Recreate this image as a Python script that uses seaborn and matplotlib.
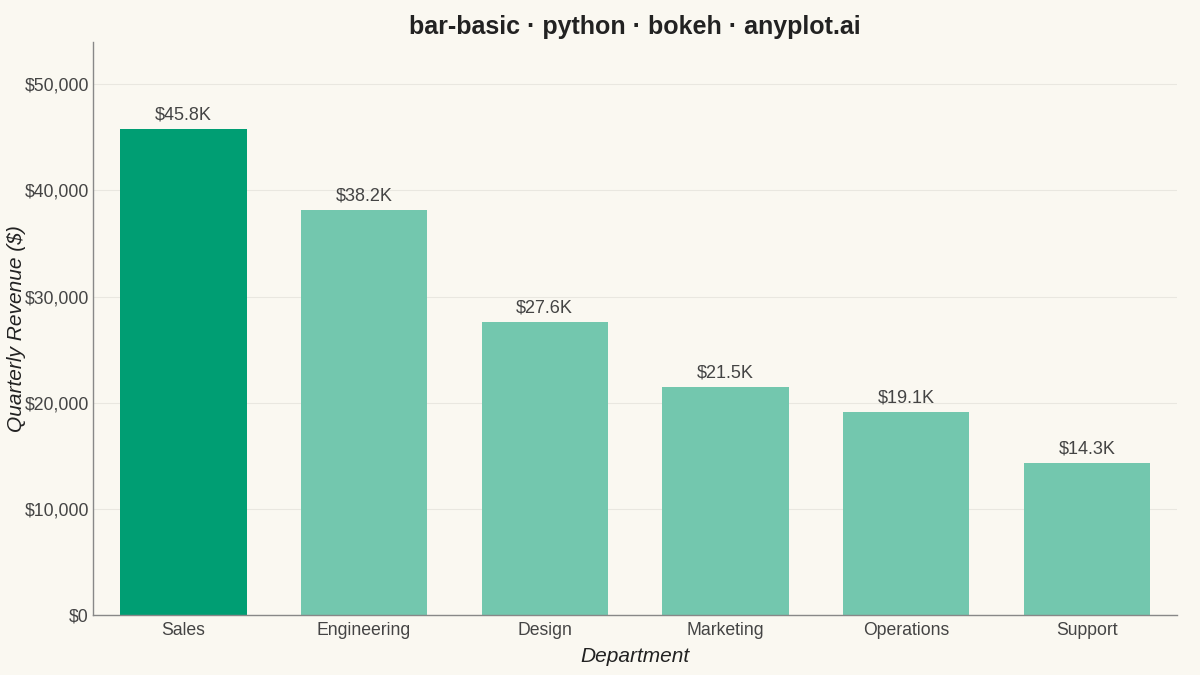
import pandas as pd
import seaborn as sns
import matplotlib.pyplot as plt
from matplotlib.ticker import FuncFormatter

# Data
departments = ['Sales', 'Engineering', 'Design', 'Marketing', 'Operations', 'Support']
revenue = [45800, 38200, 27600, 21500, 19100, 14300]

df = pd.DataFrame({'Department': departments, 'Revenue': revenue})

bg = '#FAF8F1'
sns.set_style('white')
plt.rcParams['font.family'] = ['Liberation Sans', 'DejaVu Sans']

fig = plt.figure(figsize=(12, 6.75), dpi=100, facecolor=bg)
ax = fig.add_axes([0.0775, 0.089, 0.9035, 0.849])
ax.set_facecolor(bg)

colors = ['#009E73'] + ['#73C7AE'] * (len(departments) - 1)
sns.barplot(data=df, x='Department', y='Revenue', hue='Department',
            palette=colors, legend=False, width=0.7, saturation=1,
            linewidth=0, ax=ax, zorder=2)

for p, v in zip(ax.patches, revenue):
    ax.text(p.get_x() + p.get_width() / 2, v + 500, f'${v / 1000:.1f}K',
            ha='center', va='bottom', fontsize=13, color='#444444')

ax.set_xlim(-0.5, 5.5)
ax.set_ylim(0, 54000)
ax.set_yticks([0, 10000, 20000, 30000, 40000, 50000])
ax.yaxis.set_major_formatter(FuncFormatter(lambda v, _: f'${v:,.0f}'))
ax.grid(axis='y', color='#E9E7E0', linewidth=0.8, zorder=0)
ax.set_axisbelow(True)

for s in ['top', 'right']:
    ax.spines[s].set_visible(False)
for s in ['left', 'bottom']:
    ax.spines[s].set_color('#888888')
    ax.spines[s].set_linewidth(1)

ax.tick_params(axis='both', length=0, labelsize=12.7, labelcolor='#444444')
ax.tick_params(axis='y', pad=3)
ax.tick_params(axis='x', pad=5)
ax.set_xlabel('Department', fontsize=15, fontstyle='italic', color='#222222', labelpad=6)
ax.set_ylabel('Quarterly Revenue ($)', fontsize=15, fontstyle='italic', color='#222222')
ax.yaxis.set_label_coords(-0.062, 0.5)
ax.set_title('bar-basic · python · bokeh · anyplot.ai', fontsize=18, fontweight='bold',
             color='#222222', pad=6)

plt.savefig('out.png', dpi=100, facecolor=bg)
